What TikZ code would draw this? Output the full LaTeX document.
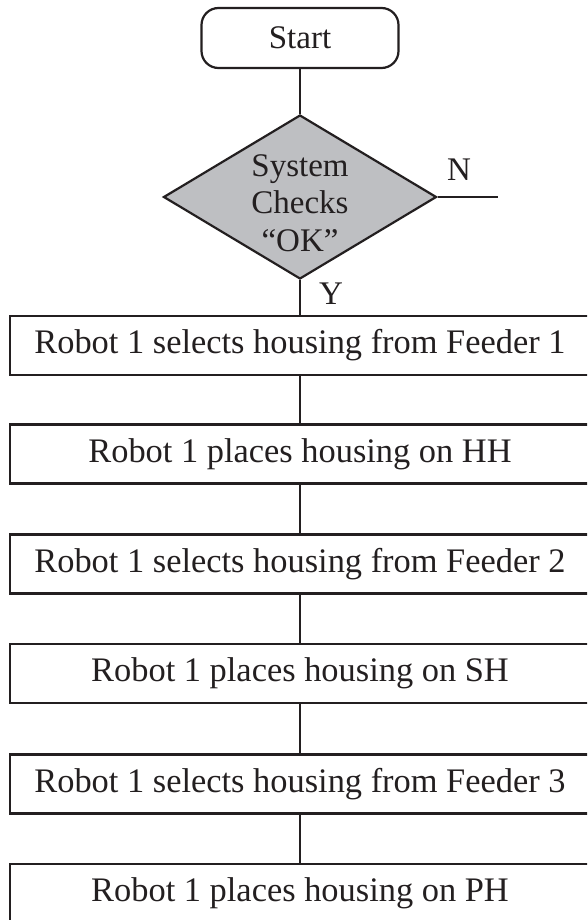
\documentclass[tikz,border=0pt]{standalone}
\usepackage{fontspec}
\setmainfont{Liberation Serif}
\usetikzlibrary{shapes.geometric}
\definecolor{ink}{RGB}{35,31,32}
\definecolor{diagray}{RGB}{190,191,194}
\begin{document}
\begin{tikzpicture}[x=1pt,y=-1pt,line width=2.2pt,
  every node/.style={text=ink},
  procbox/.style={draw=ink,rectangle,minimum width=580pt,minimum height=59pt,inner sep=0pt,font=\fontsize{34.4}{40}\selectfont},
  startbox/.style={draw=ink,rectangle,rounded corners=17pt,minimum width=197pt,minimum height=60pt,inner sep=0pt,font=\fontsize{33}{40}\selectfont},
  decision/.style={draw=ink,fill=diagray,diamond,minimum width=273pt,minimum height=164pt,inner sep=0pt},
  dectext/.style={inner sep=0pt,align=center,font=\fontsize{33}{37.5}\selectfont},
  lbl/.style={inner sep=0pt,anchor=base,font=\fontsize{33}{40}\selectfont},
  conn/.style={draw=ink}]
\useasboundingbox (0,0) rectangle (587,920);
\clip (0,0) rectangle (587,920);
\fill[white] (0,0) rectangle (587,920);
\node[startbox] (start) at (300,38) {Start};
\node[decision] (dec) at (300,197) {};
\node[dectext] (dect) at (300,203) {System\\Checks\\“OK”};
\node[procbox] (b1) at (300,345.5) {Robot 1 selects housing from Feeder 1};
\node[procbox] (b2) at (300,454) {Robot 1 places housing on HH};
\node[procbox] (b3) at (300,564) {Robot 1 selects housing from Feeder 2};
\node[procbox] (b4) at (300,673.5) {Robot 1 places housing on SH};
\node[procbox] (b5) at (300,784) {Robot 1 selects housing from Feeder 3};
\node[procbox] (b6) at (300,893.5) {Robot 1 places housing on PH};
\coordinate (nend) at (498,197);
\node[lbl] (nl) at (459,180) {N};
\node[lbl] (yl) at (331,304) {Y};
\draw[conn] (start.south) -- (dec.north);
\draw[conn] (dec.east) -- (nend);
\draw[conn] (dec.south) -- (b1.north);
\draw[conn] (b1.south) -- (b2.north);
\draw[conn] (b2.south) -- (b3.north);
\draw[conn] (b3.south) -- (b4.north);
\draw[conn] (b4.south) -- (b5.north);
\draw[conn] (b5.south) -- (b6.north);
\end{tikzpicture}
\end{document}
